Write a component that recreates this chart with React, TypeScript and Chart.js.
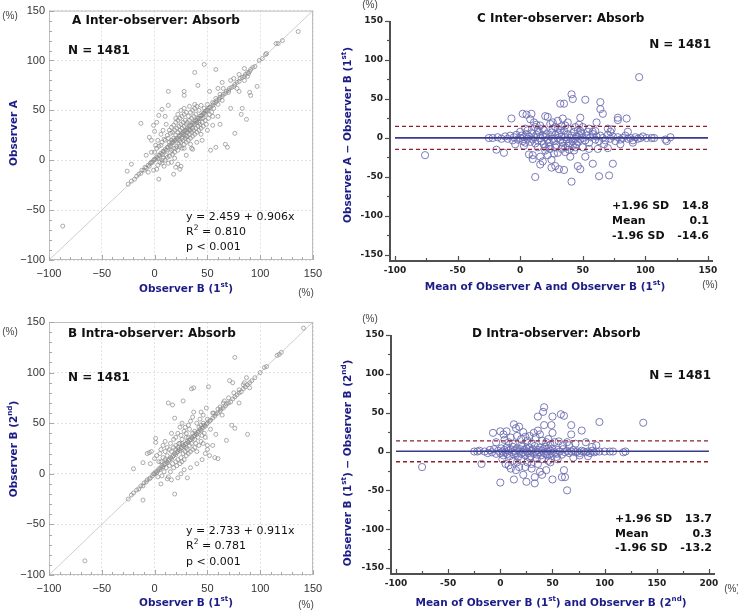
import React, { useEffect, useRef } from "react";
import { Chart, registerables } from "chart.js";
Chart.register(...registerables);

const W = 738;
const H = 612;

// ---------- DATA ----------
const A_TICKS = [-100, -50, 0, 50, 100, 150];
const C_XTICKS = [-100, -50, 0, 50, 100, 150];
const D_XTICKS = [-100, -50, 0, 50, 100, 150, 200];
const BA_YTICKS = [-150, -100, -50, 0, 50, 100, 150];
const C_XMINOR = [-75, -25, 25, 75, 125];
const D_XMINOR = [-75, -25, 25, 75, 125, 175];
const BA_YMINOR = [-125, -75, -25, 25, 75, 125];
const AB_MINOR = [-90, -80, -70, -60, -40, -30, -20, -10, 10, 20, 30, 40, 60, 70, 80, 90, 110, 120, 130, 140];

const C_LIMITS = [14.8, 0.1, -14.6];
const D_LIMITS = [13.7, 0.3, -13.2];

const A_POINTS: [number, number][] = [
  [-25,-24],[-22,-21],[-19,-19],[-17,-16],[-15,-14],[-13,-13],[-12,-10],[-10,-10],[-9,-7],[-8,-8],[-6,-5],[-5,-6],[-4,-3],[-3,-2],[-2,-2],[-1,0],[0,1],[1,1],[2,3],[3,2],[4,5],[5,5],[6,7],[7,6],[8,9],[9,9],[10,11],[11,10],[12,13],[13,13],[14,15],[15,14],[16,17],[17,18],[18,18],[19,20],[20,20],[21,22],[22,21],[23,24],[24,25],[25,25],[26,27],[27,26],[28,29],[29,30],[30,30],[31,32],[32,31],[33,34],[34,35],[35,35],[36,37],[37,37],[38,39],[39,40],[40,40],[41,42],[42,42],[43,44],[44,45],[45,45],[46,47],[47,47],[48,49],[49,50],[50,50],[51,52],[52,53],[53,53],[55,55],[56,57],[58,58],[59,60],[61,61],[62,63],[64,64],[65,66],[67,67],[68,69],[70,70],[71,72],[73,73],[75,74],[76,76],[78,78],[80,79],[81,82],[83,83],[85,84],[86,86],[88,88],[90,89],[91,91],[93,93],[95,94],[99,100],[102,102],[105,106],[106,107],[115,117],[117,117],[121,120],[136,129],
  [0,8],[2,12],[3,-5],[4,14],[5,-2],[6,15],[7,18],[8,2],[9,21],[10,0],[10,20],[11,5],[12,25],[12,3],[13,22],[14,4],[14,30],[15,8],[15,27],[16,10],[16,33],[17,6],[17,28],[18,12],[18,35],[19,8],[19,30],[20,12],[20,38],[21,14],[21,32],[22,10],[22,40],[23,16],[23,34],[24,14],[24,42],[25,18],[25,36],[26,12],[26,44],[27,20],[27,38],[28,16],[28,46],[29,22],[29,40],[30,18],[30,48],[31,24],[31,38],[32,20],[32,44],[33,26],[33,40],[34,22],[34,48],[35,28],[35,42],[36,24],[36,50],[37,30],[37,44],[38,26],[38,52],[39,32],[39,46],[40,28],[40,54],[41,34],[42,30],[42,50],[43,36],[44,32],[44,55],[45,38],[46,34],[47,52],[48,40],[49,36],[50,56],[51,42],[52,46],[54,48],[55,58],[56,52],[58,62],[60,56],[62,66],[64,60],
  [3,20],[6,26],[8,30],[11,36],[9,-6],[13,-3],[16,-2],[19,2],[20,42],[25,50],[28,52],[33,54],[10,44],[22,46],[30,5],[35,12],[40,18],[45,20],[50,30],[55,35],[60,72],[65,72],[70,68],[72,80],[75,82],[80,86],[85,80],[88,84],[78,72],[-8,5],[-6,-12],[-3,8],[-1,-10],[1,15],[24,30],[26,32],[28,34],[30,36],[27,28],[29,25],[31,28],[33,30],[20,25],[18,22],[16,20],[14,18],[22,28],[24,20],[26,22],[30,24],[34,30],[36,32],[38,36],[40,38],[42,38],[44,42],[46,42],[48,46],
  [-87,-66],[-26,-11],[-22,-4],[-13,37],[13,69],[38,88],[47,96],[58,91],[41,75],[28,69],[28,65],[52,69],[64,78],[80,69],[85,92],[89,87],[90,68],[91,65],[97,74],
  [87,41],[83,52],[82,46],[76,27],[72,52],[69,13],[67,16],[58,13],[53,10],[62,36],[55,44],[60,44],[38,56],[13,55],[7,51],[4,45],[2,38],[-1,35],[0,29],[-5,23],[-3,20],[4,-19],[18,-14],[20,-7],[22,-4],[24,-9],[25,-6],[7,-3],[2,-9],[7,0],[28,12],[34,16],[36,11],[44,26]
];

const B_POINTS: [number, number][] = [
  [-25,-25],[-22,-21],[-20,-19],[-17,-16],[-15,-15],[-13,-12],[-11,-12],[-10,-9],[-8,-8],[-7,-6],[-5,-5],[-4,-4],[-2,-2],[-1,0],[0,0],[1,2],[2,1],[3,3],[4,5],[5,4],[6,6],[7,8],[8,7],[9,9],[10,10],[11,12],[12,11],[13,13],[14,14],[15,16],[16,15],[17,17],[18,18],[19,20],[20,19],[21,21],[22,22],[23,24],[24,23],[25,25],[26,26],[27,28],[28,27],[29,29],[30,30],[31,32],[32,31],[33,33],[34,34],[35,36],[36,35],[37,37],[38,38],[39,40],[40,39],[41,41],[42,42],[43,44],[44,43],[45,45],[46,46],[47,48],[48,47],[49,49],[50,50],[52,52],[53,53],[55,55],[57,57],[58,59],[60,60],[62,62],[63,64],[65,65],[67,67],[68,69],[70,70],[72,71],[74,74],[76,76],[78,78],[80,80],[82,81],[84,84],[86,86],[88,88],[90,90],[92,92],[95,95],[100,100],[104,105],[106,106],[116,117],[118,118],[120,120],[141,144],
  [-20,5],[-11,11],[-7,20],[-5,21],[-3,22],[1,35],[1,31],[-4,10],[0,15],[2,18],[3,-3],[5,20],[6,24],[7,-2],[8,28],[9,2],[10,22],[10,32],[11,6],[12,26],[13,-3],[13,70],[14,8],[15,30],[15,2],[16,40],[17,10],[17,68],[18,34],[18,6],[19,55],[19,-20],[20,12],[20,36],[21,8],[22,40],[22,14],[23,30],[24,10],[24,46],[25,16],[25,38],[26,12],[26,50],[27,72],[27,20],[28,42],[28,14],[29,22],[29,46],[30,18],[30,40],[31,-4],[31,24],[32,48],[32,20],[33,28],[33,44],[34,22],[34,52],[35,84],[35,30],[36,24],[36,56],[37,85],[37,61],[38,26],[38,34],[39,30],[40,50],[40,22],[41,36],[42,28],[43,54],[44,61],[44,32],[45,38],[46,58],[46,30],[47,40],[48,36],[49,65],[50,28],[51,86],[52,18],[53,44],[55,28],[56,60],[57,16],[58,39],[60,15],[62,66],[64,58],[66,72],[68,33],[71,92],[73,48],[74,90],[76,45],[76,115],[80,70],[84,88],[87,95],[88,39],[90,85],[-11,-26],[-66,-86],
  [6,-10],[12,-5],[16,-6],[22,-4],[25,0],[28,4],[34,6],[40,10],[45,14],[48,20],[50,24],[14,24],[20,28],[26,34],[30,36],[8,16],[4,12],[18,26],[24,30],[30,26],[36,40],[42,46],[46,50],[12,18],[16,22],[20,24],[22,26],[10,14],[6,12],[26,30],[32,36],[38,42],[44,48],[50,54],[55,60],[60,64],[65,70],[70,75],[75,80],[80,83],[85,90]
];

const C_POINTS: [number, number][] = [
  [-25,0],[-22,0],[-19,-15],[-13,-19],[-18,1],[-15,-1],[-12,2],[-10,-1],[-8,3],[-6,-3],[-5,1],[-3,4],[-2,-2],[0,0],[1,3],[2,-4],[3,1],[4,-6],[5,5],[6,-1],[7,2],[8,-5],[9,6],[10,-2],[11,1],[12,-7],[13,4],[14,-3],[15,8],[16,0],[17,-4],[18,3],[19,-8],[20,1],[21,5],[22,-2],[23,-6],[24,2],[25,7],[26,-1],[27,-4],[28,4],[29,-9],[30,0],[31,6],[32,-3],[33,2],[34,-6],[35,9],[36,1],[37,-2],[38,5],[39,-7],[40,0],[41,3],[42,-4],[43,8],[44,-1],[45,2],[46,-5],[47,4],[48,-2],[49,6],[50,0],[52,-3],[53,3],[55,-6],[56,1],[58,5],[60,-2],[61,2],[63,-4],[64,3],[66,0],[68,-3],[70,4],[72,-1],[74,2],[76,-4],[78,1],[80,-2],[82,0],[84,3],[86,-1],[88,0],[90,-3],[92,1],[94,-1],[96,0],[98,2],[101,0],[105,0],[107,0],[116,-2],[117,-4],[120,1],
  [-76,-22],[95,78],[-7,25],[2,31],[5,30],[9,31],[8,24],[11,20],[13,17],[12,-50],[20,28],[22,27],[24,18],[26,12],[28,14],[30,22],[32,44],[35,44],[34,25],[36,16],[38,20],[41,56],[42,50],[44,14],[46,10],[48,26],[50,14],[52,49],[55,12],[58,8],[61,20],[64,46],[64,37],[66,31],[70,12],[73,11],[78,26],[78,23],[85,25],[86,8],
  [7,-21],[10,-27],[10,-22],[14,-12],[16,-24],[16,-34],[18,-30],[20,-16],[22,-22],[25,-28],[25,-38],[28,-36],[30,-19],[31,-40],[33,-14],[35,-41],[36,-12],[38,-10],[40,-24],[41,-56],[43,-16],[46,-36],[48,-40],[50,-12],[52,-24],[55,-14],[58,-33],[62,-14],[63,-49],[70,-13],[71,-48],[74,-33],
  [4,12],[6,10],[14,10],[18,12],[20,-12],[24,-14],[28,-12],[32,10],[34,-10],[38,12],[42,-10],[44,-12],[12,14],[16,16],[3,-10],[0,8],[-4,-8],[26,20],[30,12],[36,-18],[45,-8],[48,9],[54,8],[60,9],[67,-8],[72,8],[80,-8],[90,-6],[27,-20],[19,10],[23,-11],[33,15],[39,-15],[47,17]
];

const D_POINTS: [number, number][] = [
  [-25,0],[-22,0],[-18,-16],[-20,1],[-15,0],[-12,-2],[-10,2],[-8,-1],[-6,3],[-4,-3],[-2,1],[0,-2],[1,4],[2,0],[3,-5],[4,2],[5,-1],[6,5],[7,-3],[8,1],[9,-6],[10,3],[11,-1],[12,6],[13,-4],[14,1],[15,-2],[16,4],[17,-7],[18,0],[19,3],[20,-3],[21,6],[22,-1],[23,2],[24,-5],[25,4],[26,0],[27,-2],[28,5],[29,-6],[30,1],[31,3],[32,-3],[33,7],[34,0],[35,-4],[36,2],[37,-1],[38,5],[39,-5],[40,1],[41,3],[42,-2],[43,6],[44,-3],[45,0],[46,4],[47,-4],[48,1],[49,-2],[50,3],[52,-1],[54,-3],[55,2],[57,0],[59,-4],[60,3],[62,-1],[64,1],[66,-2],[68,0],[70,2],[72,-1],[74,0],[76,-2],[78,1],[80,0],[82,-1],[84,0],[86,-2],[88,1],[90,-1],[92,0],[95,0],[100,0],[105,0],[108,0],[118,-1],[120,0],
  [-75,-20],[137,37],[95,38],[42,57],[41,51],[36,45],[50,45],[58,48],[61,46],[68,34],[42,34],[49,34],[50,24],[68,22],[78,27],[13,35],[15,30],[18,32],[0,26],[-7,24],[3,22],[6,26],[22,25],[32,24],[36,27],[10,18],[20,16],[26,14],[30,10],[40,14],[44,12],[52,12],[56,13],[64,12],[72,10],[82,12],[92,8],[-4,12],[8,12],
  [0,-40],[13,-36],[25,-39],[33,-41],[33,-33],[40,-30],[44,-24],[50,-36],[59,-33],[61,-24],[64,-50],[62,-33],[22,-30],[15,-24],[10,-22],[8,-18],[5,-16],[18,-20],[26,-14],[30,-22],[36,-16],[38,-26],[46,-12],[55,-10],[70,-8],[84,-6],[2,-10],[12,-12],[20,-10],[28,-8],[35,-9],[45,-5],[24,-20],[30,-16],[16,-14],
  [4,15],[16,20],[24,19],[34,18],[38,22],[46,16],[28,20],[12,10],[20,8],[48,9],[54,-7],[60,8],[76,-5],[88,6],[66,8],[40,-10],[48,-14]
];

// ---------- STYLE ----------
const F_SANS = '"DejaVu Sans", Verdana, sans-serif';
const F_ARIAL = '"Liberation Sans", Arial, sans-serif';
const BLUE = "#1c1c86";
const DARK = "#111111";
const AXIS = "#505050";

type Seg = { t: string; sup?: boolean };
type TextSpec = {
  segs: Seg[];
  x: number;
  y: number;
  size: number;
  bold?: boolean;
  family?: string;
  color?: string;
  align?: "left" | "center" | "right";
  rotate?: boolean;
};

function drawRich(ctx: CanvasRenderingContext2D, s: TextSpec) {
  const family = s.family || F_SANS;
  const weight = s.bold ? "bold" : "normal";
  const main = `${weight} ${s.size}px ${family}`;
  const sup = `${weight} ${(s.size * 0.68).toFixed(1)}px ${family}`;
  ctx.save();
  let total = 0;
  const widths = s.segs.map((g) => {
    ctx.font = g.sup ? sup : main;
    const w = ctx.measureText(g.t).width;
    total += w;
    return w;
  });
  ctx.translate(s.x, s.y);
  if (s.rotate) ctx.rotate(-Math.PI / 2);
  const align = s.align || "left";
  let cx = align === "left" ? 0 : align === "center" ? -total / 2 : -total;
  ctx.fillStyle = s.color || DARK;
  ctx.textBaseline = "middle";
  ctx.textAlign = "left";
  s.segs.forEach((g, i) => {
    ctx.font = g.sup ? sup : main;
    ctx.fillText(g.t, cx, g.sup ? -s.size * 0.35 : 0);
    cx += widths[i];
  });
  ctx.restore();
}

const T = (t: string): Seg[] => [{ t }];

type Box = { x: number; y: number; w: number; h: number };
type Panel = {
  kind: "reg" | "ba";
  box: Box;
  points: [number, number][];
  area: { l: number; t: number; r: number; b: number };
  xr: [number, number];
  yr: [number, number];
  xticks: number[];
  yticks: number[];
  xminor?: number[];
  yminor?: number[];
  limits?: number[];
  lineX?: [number, number];
  texts: TextSpec[];
};

const YW = 40;
const XH = 30;

function minusFmt(v: any) {
  const n = Number(v);
  return n < 0 ? "\u2212" + Math.abs(n) : String(n);
}

function makeConfig(p: Panel): any {
  const reg = p.kind === "reg";
  const datasets: any[] = [];
  if (reg) {
    datasets.push({
      data: [{ x: p.xr[0], y: p.xr[0] }, { x: p.xr[1], y: p.xr[1] }],
      showLine: true,
      borderColor: "#c2c2c2",
      borderWidth: 0.8,
      pointRadius: 0,
      order: 2,
    });
    datasets.push({
      data: p.points.map(([x, y]) => ({ x, y })),
      pointRadius: 2,
      pointBorderWidth: 0.7,
      pointBorderColor: "#8a8a8a",
      pointBackgroundColor: "rgba(255,255,255,0)",
      order: 1,
    });
  } else {
    const lx = p.lineX!;
    const lim = p.limits!;
    datasets.push({
      data: p.points.map(([x, y]) => ({ x, y })),
      pointRadius: 3.6,
      pointBorderWidth: 0.9,
      pointBorderColor: "#6d6db3",
      pointBackgroundColor: "rgba(255,255,255,0)",
      order: 3,
    });
    [lim[0], lim[2]].forEach((v) =>
      datasets.push({
        data: [{ x: lx[0], y: v }, { x: lx[1], y: v }],
        showLine: true,
        borderColor: "#8e1f2c",
        borderWidth: 1.3,
        borderDash: [4, 3],
        pointRadius: 0,
        order: 1,
      })
    );
    datasets.push({
      data: [{ x: lx[0], y: lim[1] }, { x: lx[1], y: lim[1] }],
      showLine: true,
      borderColor: "#3a3a8c",
      borderWidth: 1.6,
      pointRadius: 0,
      order: 0,
    });
  }

  const tickFont = reg
    ? { family: F_ARIAL, size: 11 }
    : { family: F_SANS, size: 9, weight: "bold" };
  const tickColor = reg ? "#333333" : "#222222";

  const gridReg = { color: "#e2e2e2", drawTicks: false, lineWidth: 1 };
  const gridBa = { display: false, drawTicks: false };

  const xScale: any = {
    type: "linear",
    min: p.xr[0],
    max: p.xr[1],
    afterFit: (s: any) => {
      s.height = XH;
    },
    afterBuildTicks: (s: any) => {
      s.ticks = p.xticks.map((v) => ({ value: v }));
    },
    grid: reg ? gridReg : gridBa,
    border: { display: false, dash: reg ? [2, 2] : [] },
    ticks: {
      font: tickFont,
      color: tickColor,
      padding: reg ? 7 : 4,
      autoSkip: false,
      maxRotation: 0,
      callback: reg ? minusFmt : (v: any) => String(v),
    },
  };
  const yScale: any = {
    type: "linear",
    min: p.yr[0],
    max: p.yr[1],
    afterFit: (s: any) => {
      s.width = YW;
    },
    afterBuildTicks: (s: any) => {
      s.ticks = p.yticks.map((v) => ({ value: v }));
    },
    grid: reg ? gridReg : gridBa,
    border: { display: false, dash: reg ? [2, 2] : [] },
    ticks: {
      font: tickFont,
      color: tickColor,
      padding: reg ? 4 : 7,
      autoSkip: false,
      callback: reg ? minusFmt : (v: any) => String(v),
    },
  };

  const hbar = (ctx: CanvasRenderingContext2D, x1: number, x2: number, y: number, w: number) =>
    ctx.fillRect(Math.min(x1, x2), y - w / 2, Math.abs(x2 - x1), w);
  const vbar = (ctx: CanvasRenderingContext2D, x: number, y1: number, y2: number, w: number) =>
    ctx.fillRect(x - w / 2, Math.min(y1, y2), w, Math.abs(y2 - y1));

  const drawBaAxes = (chart: any) => {
    const ctx = chart.ctx as CanvasRenderingContext2D;
    const a = chart.chartArea;
    const xs = chart.scales.x;
    const ys = chart.scales.y;
    ctx.save();
    ctx.fillStyle = AXIS;
    const yb = Math.round(a.bottom);
    const xl = Math.round(a.left);
    const xr = Math.round(a.right);
    ctx.fillRect(xl - 1, a.top, 2, yb - a.top + 1);
    ctx.fillRect(xl - 1, yb - 1, xr - xl + 1, 2);
    p.yticks.forEach((v) => {
      const y = Math.round(ys.getPixelForValue(v)) + 0.5;
      hbar(ctx, xl - 5, xl, y, 1.2);
    });
    (p.yminor || []).forEach((v) => {
      const y = Math.round(ys.getPixelForValue(v)) + 0.5;
      hbar(ctx, xl - 3, xl, y, 1.2);
    });
    p.xticks.forEach((v) => {
      const x = Math.round(xs.getPixelForValue(v)) + 0.5;
      vbar(ctx, x, yb, yb - 5, 1.2);
    });
    (p.xminor || []).forEach((v) => {
      const x = Math.round(xs.getPixelForValue(v)) + 0.5;
      vbar(ctx, x, yb, yb - 3, 1.2);
    });
    ctx.restore();
  };

  const decor = {
    id: "decor",
    afterDatasetsDraw(chart: any) {
      const ctx = chart.ctx as CanvasRenderingContext2D;
      const a = chart.chartArea;
      const xs = chart.scales.x;
      const ys = chart.scales.y;
      if (!reg) return;
      ctx.save();
      ctx.fillStyle = "#bdbdbd";
      hbar(ctx, a.left, a.right, a.top + 0.5, 1);
      hbar(ctx, a.left, a.right, a.bottom - 0.5, 1);
      vbar(ctx, a.left + 0.5, a.top, a.bottom, 1);
      vbar(ctx, a.right - 0.5, a.top, a.bottom, 1);
      ctx.fillStyle = "#a8a8a8";
      p.yticks.forEach((v) => {
        const y = Math.round(ys.getPixelForValue(v)) + 0.5;
        hbar(ctx, a.left, a.left + 5, y, 1);
      });
      (p.yminor || []).forEach((v) => {
        const y = Math.round(ys.getPixelForValue(v)) + 0.5;
        hbar(ctx, a.left, a.left + 3, y, 1);
      });
      p.xticks.forEach((v) => {
        const x = Math.round(xs.getPixelForValue(v)) + 0.5;
        vbar(ctx, x, a.bottom, a.bottom - 5, 1);
      });
      (p.xminor || []).forEach((v) => {
        const x = Math.round(xs.getPixelForValue(v)) + 0.5;
        vbar(ctx, x, a.bottom, a.bottom - 3, 1);
      });
      ctx.restore();
    },
    afterDraw(chart: any) {
      const ctx = chart.ctx as CanvasRenderingContext2D;
      if (!reg) drawBaAxes(chart);
      ctx.save();
      ctx.translate(-p.box.x, -p.box.y);
      p.texts.forEach((t) => drawRich(ctx, t));
      ctx.restore();
    },
  };

  const b = p.box;
  return {
    type: "scatter",
    data: { datasets },
    options: {
      animation: false,
      responsive: false,
      events: [],
      layout: {
        padding: {
          left: p.area.l - b.x - YW,
          top: p.area.t - b.y,
          right: b.x + b.w - p.area.r,
          bottom: b.y + b.h - p.area.b - XH,
        },
      },
      plugins: { legend: { display: false }, tooltip: { enabled: false } },
      scales: { x: xScale, y: yScale },
    },
    plugins: [decor],
  };
}

const pct = (x: number, y: number): TextSpec => ({
  segs: T("(%)"),
  x,
  y,
  size: 10,
  family: F_ARIAL,
  color: "#444444",
  align: "center",
});

const PANELS: Panel[] = [
  {
    kind: "reg",
    box: { x: 0, y: 0, w: 330, h: 306 },
    points: A_POINTS,
    area: { l: 49, t: 7, r: 313, b: 260 },
    xr: [-100, 150],
    yr: [-100, 150],
    xticks: A_TICKS,
    yticks: A_TICKS,
    xminor: AB_MINOR,
    yminor: AB_MINOR,
    texts: [
      { segs: T("A Inter-observer: Absorb"), x: 72, y: 21, size: 12, bold: true },
      { segs: T("N = 1481"), x: 68, y: 51, size: 12, bold: true },
      { segs: T("y = 2.459 + 0.906x"), x: 186, y: 217, size: 11 },
      { segs: [{ t: "R" }, { t: "2", sup: true }, { t: " = 0.810" }], x: 186, y: 232, size: 11 },
      { segs: T("p < 0.001"), x: 186, y: 247, size: 11 },
      pct(10, 16),
      pct(306, 293),
      {
        segs: [{ t: "Observer B (1" }, { t: "st", sup: true }, { t: ")" }],
        x: 186, y: 289, size: 10.5, bold: true, color: BLUE, align: "center",
      },
      { segs: T("Observer A"), x: 14, y: 133, size: 10.5, bold: true, color: BLUE, align: "center", rotate: true },
    ],
  },
  {
    kind: "reg",
    box: { x: 0, y: 306, w: 330, h: 306 },
    points: B_POINTS,
    area: { l: 49, t: 322, r: 313, b: 575 },
    xr: [-100, 150],
    yr: [-100, 150],
    xticks: A_TICKS,
    yticks: A_TICKS,
    xminor: AB_MINOR,
    yminor: AB_MINOR,
    texts: [
      { segs: T("B Intra-observer: Absorb"), x: 68, y: 334, size: 12, bold: true },
      { segs: T("N = 1481"), x: 68, y: 378, size: 12, bold: true },
      { segs: T("y = 2.733 + 0.911x"), x: 186, y: 531, size: 11 },
      { segs: [{ t: "R" }, { t: "2", sup: true }, { t: " = 0.781" }], x: 186, y: 546, size: 11 },
      { segs: T("p < 0.001"), x: 186, y: 562, size: 11 },
      pct(10, 332),
      pct(306, 605),
      {
        segs: [{ t: "Observer B (1" }, { t: "st", sup: true }, { t: ")" }],
        x: 186, y: 603, size: 10.5, bold: true, color: BLUE, align: "center",
      },
      {
        segs: [{ t: "Observer B (2" }, { t: "nd", sup: true }, { t: ")" }],
        x: 14, y: 449, size: 10.5, bold: true, color: BLUE, align: "center", rotate: true,
      },
    ],
  },
  {
    kind: "ba",
    box: { x: 330, y: 0, w: 408, h: 306 },
    points: C_POINTS,
    area: { l: 390, t: 21, r: 713, b: 261 },
    xr: [-104, 154],
    yr: [-157.7, 150],
    xticks: C_XTICKS,
    yticks: BA_YTICKS,
    xminor: C_XMINOR,
    yminor: BA_YMINOR,
    limits: C_LIMITS,
    lineX: [-100, 150],
    texts: [
      { segs: T("C Inter-observer: Absorb"), x: 477, y: 19, size: 12, bold: true },
      { segs: T("N = 1481"), x: 711, y: 45, size: 12, bold: true, align: "right" },
      { segs: T("+1.96 SD"), x: 612, y: 206, size: 11, bold: true },
      { segs: T("14.8"), x: 709, y: 206, size: 11, bold: true, align: "right" },
      { segs: T("Mean"), x: 612, y: 221, size: 11, bold: true },
      { segs: T("0.1"), x: 709, y: 221, size: 11, bold: true, align: "right" },
      { segs: T("-1.96 SD"), x: 612, y: 236, size: 11, bold: true },
      { segs: T("-14.6"), x: 709, y: 236, size: 11, bold: true, align: "right" },
      pct(370, 5),
      pct(710, 285),
      {
        segs: [{ t: "Mean of Observer A and Observer B (1" }, { t: "st", sup: true }, { t: ")" }],
        x: 545, y: 287, size: 10.5, bold: true, color: BLUE, align: "center",
      },
      {
        segs: [{ t: "Observer A \u2212 Observer B (1" }, { t: "st", sup: true }, { t: ")" }],
        x: 348, y: 135, size: 10.5, bold: true, color: BLUE, align: "center", rotate: true,
      },
    ],
  },
  {
    kind: "ba",
    box: { x: 330, y: 306, w: 408, h: 306 },
    points: D_POINTS,
    area: { l: 391, t: 335, r: 715, b: 574 },
    xr: [-104.8, 205.8],
    yr: [-157.7, 150],
    xticks: D_XTICKS,
    yticks: BA_YTICKS,
    xminor: D_XMINOR,
    yminor: BA_YMINOR,
    limits: D_LIMITS,
    lineX: [-100, 200],
    texts: [
      { segs: T("D Intra-observer: Absorb"), x: 472, y: 334, size: 12, bold: true },
      { segs: T("N = 1481"), x: 711, y: 376, size: 12, bold: true, align: "right" },
      { segs: T("+1.96 SD"), x: 615, y: 519, size: 11, bold: true },
      { segs: T("13.7"), x: 712, y: 519, size: 11, bold: true, align: "right" },
      { segs: T("Mean"), x: 615, y: 534, size: 11, bold: true },
      { segs: T("0.3"), x: 712, y: 534, size: 11, bold: true, align: "right" },
      { segs: T("-1.96 SD"), x: 615, y: 548, size: 11, bold: true },
      { segs: T("-13.2"), x: 712, y: 548, size: 11, bold: true, align: "right" },
      pct(370, 319),
      pct(732, 589),
      {
        segs: [
          { t: "Mean of Observer B (1" }, { t: "st", sup: true }, { t: ") and Observer B (2" },
          { t: "nd", sup: true }, { t: ")" },
        ],
        x: 551, y: 603, size: 10.5, bold: true, color: BLUE, align: "center",
      },
      {
        segs: [
          { t: "Observer B (1" }, { t: "st", sup: true }, { t: ") \u2212 Observer B (2" },
          { t: "nd", sup: true }, { t: ")" },
        ],
        x: 348, y: 463, size: 10.5, bold: true, color: BLUE, align: "center", rotate: true,
      },
    ],
  },
];

function PanelCanvas({ panel }: { panel: Panel }) {
  const ref = useRef<HTMLCanvasElement>(null);
  useEffect(() => {
    const chart = new Chart(ref.current as HTMLCanvasElement, makeConfig(panel));
    return () => chart.destroy();
  }, [panel]);
  const b = panel.box;
  return (
    <canvas
      ref={ref}
      width={b.w}
      height={b.h}
      style={{ position: "absolute", left: b.x, top: b.y, width: b.w, height: b.h }}
    />
  );
}

export default function App() {
  return (
    <div
      style={{
        position: "absolute",
        left: 0,
        top: 0,
        width: W,
        height: H,
        background: "#ffffff",
        overflow: "hidden",
      }}
    >
      {PANELS.map((p, i) => (
        <PanelCanvas key={i} panel={p} />
      ))}
    </div>
  );
}
